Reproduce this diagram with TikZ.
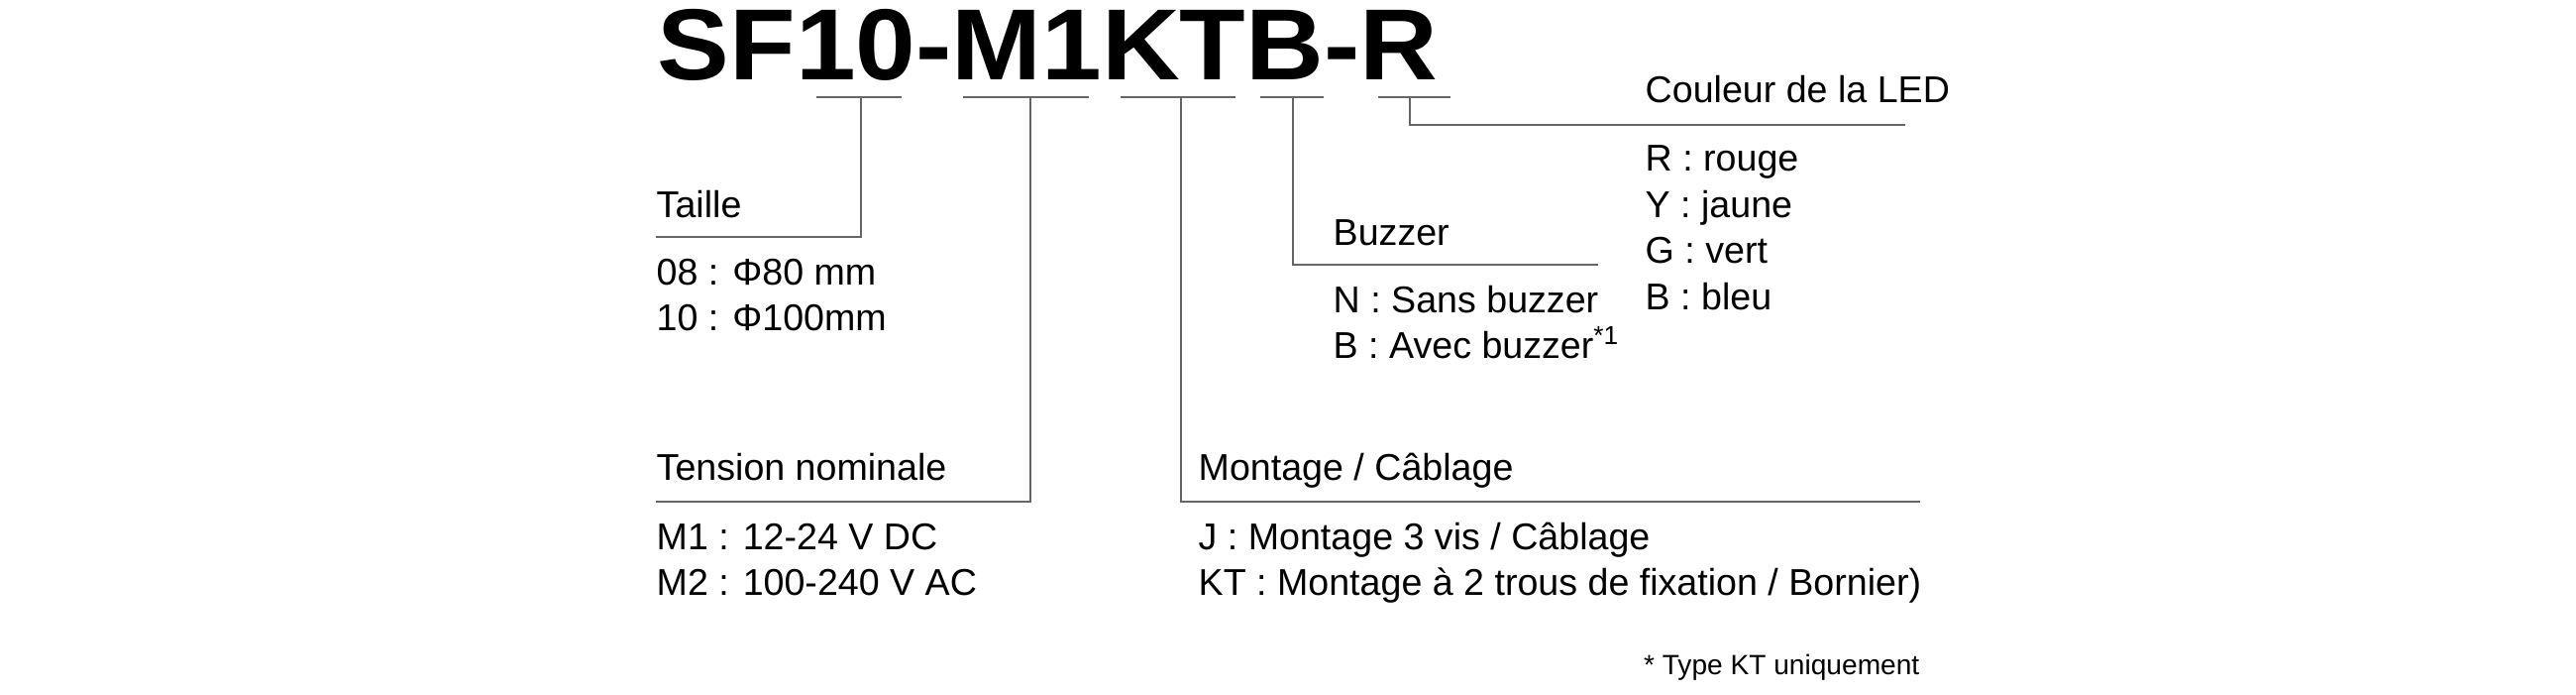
\documentclass[tikz,border=0pt]{standalone}
\usepackage{fontspec}
\setmainfont{Liberation Sans}
\begin{document}
\begin{tikzpicture}[
  lbl/.style={anchor=base west, inner sep=0pt, font=\fontsize{10.7}{13}\selectfont},
  ln/.style={draw=black!60, line width=0.5pt}]
\useasboundingbox (0,0) rectangle (26,-7);
\node[anchor=base west, inner sep=0pt, font=\fontsize{29}{31}\selectfont\bfseries, xscale=1.07] (code) at (6.63,-0.80) {SF10-M1KTB-R};
% underlines
\coordinate (U1a) at (8.24,-0.98); \coordinate (U1b) at (9.10,-0.98);
\coordinate (U2a) at (9.72,-0.98); \coordinate (U2b) at (10.99,-0.98);
\coordinate (U3a) at (11.31,-0.98); \coordinate (U3b) at (12.47,-0.98);
\coordinate (U4a) at (12.72,-0.98); \coordinate (U4b) at (13.36,-0.98);
\coordinate (U5a) at (13.91,-0.98); \coordinate (U5b) at (14.64,-0.98);
\foreach \i in {1,...,5} \draw[ln] (U\i a) -- (U\i b);
% Taille
\coordinate (T1) at (8.69,-0.98); \coordinate (T2) at (8.69,-2.39); \coordinate (T3) at (6.62,-2.39);
\draw[ln] (T1) -- (T2) -- (T3);
\node[lbl] (taille) at (6.62,-2.19) {Taille};
\node[lbl] (t08) at (6.62,-2.87) {08 : Φ80 mm};
\node[lbl] (t10) at (6.62,-3.33) {10 : Φ100mm};
% Tension
\coordinate (V1) at (10.40,-0.98); \coordinate (V2) at (10.40,-5.06); \coordinate (V3) at (6.62,-5.06);
\draw[ln] (V1) -- (V2) -- (V3);
\node[lbl] (tension) at (6.62,-4.84) {Tension nominale};
\node[lbl] (m1) at (6.62,-5.54) {M1 : 12-24 V DC};
\node[lbl] (m2) at (6.62,-6.00) {M2 : 100-240 V AC};
% Montage
\coordinate (M1) at (11.92,-0.98); \coordinate (M2) at (11.92,-5.06); \coordinate (M3) at (19.38,-5.06);
\draw[ln] (M1) -- (M2) -- (M3);
\node[lbl] (montage) at (12.09,-4.84) {Montage / Câblage};
\node[lbl] (mj) at (12.09,-5.54) {J : Montage 3 vis / Câblage};
\node[lbl] (mkt) at (12.09,-6.00) {KT : Montage à 2 trous de fixation / Bornier)};
% Buzzer
\coordinate (B1) at (13.05,-0.98); \coordinate (B2) at (13.05,-2.67); \coordinate (B3) at (16.13,-2.67);
\draw[ln] (B1) -- (B2) -- (B3);
\node[lbl] (buzzer) at (13.45,-2.47) {Buzzer};
\node[lbl] (bn) at (13.45,-3.15) {N : Sans buzzer};
\node[lbl] (bb) at (13.45,-3.61) {B : Avec buzzer\textsuperscript{*1}};
% LED
\coordinate (L1) at (14.23,-0.98); \coordinate (L2) at (14.23,-1.26); \coordinate (L3) at (19.23,-1.26);
\draw[ln] (L1) -- (L2) -- (L3);
\node[lbl] (led) at (16.60,-1.03) {Couleur de la LED};
\node[lbl] (lr) at (16.60,-1.72) {R : rouge};
\node[lbl] (ly) at (16.60,-2.19) {Y : jaune};
\node[lbl] (lg) at (16.60,-2.65) {G : vert};
\node[lbl] (lb) at (16.60,-3.12) {B : bleu};
\node[anchor=base east, inner sep=0pt, font=\fontsize{8}{10}\selectfont] (note) at (19.38,-6.80) {* Type KT uniquement};
\end{tikzpicture}
\end{document}
